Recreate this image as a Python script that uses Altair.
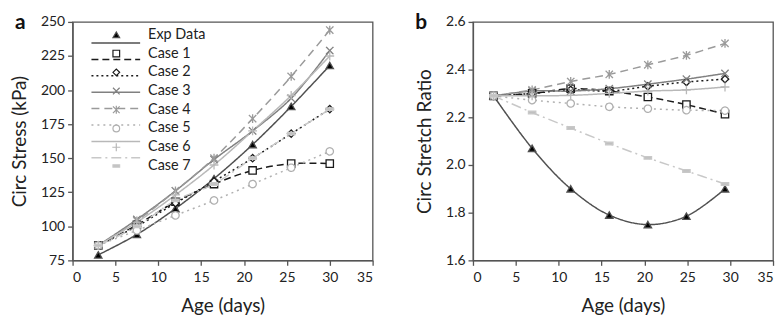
import altair as alt
import pandas as pd

series = ["Exp Data", "Case 1", "Case 2", "Case 3", "Case 4", "Case 5", "Case 6", "Case 7"]
panel_labels = ["a", "b"]

# Panel a: circumferential stress (kPa)
age_a = [3.0, 7.5, 12.0, 16.5, 21.0, 25.5, 30.0]
stress = {
    "Exp Data": [79, 94, 113, 135, 160, 188, 218],
    "Case 1": [86, 101, 118, 131, 141, 146, 146],
    "Case 2": [86, 100, 117, 133, 150, 168, 186],
    "Case 3": [86, 105, 126, 149, 170, 194, 229],
    "Case 4": [86, 104, 126, 150, 179, 210, 244],
    "Case 5": [86, 97, 108, 119, 131, 143, 155],
    "Case 6": [86, 103, 123, 145, 170, 196, 225],
    "Case 7": [86, 100, 119, 131, 150, 168, 186],
}

# Panel b: circumferential stretch ratio
age_b = [2.4, 6.9, 11.4, 15.9, 20.4, 24.9, 29.4]
stretch = {
    "Exp Data": [2.29, 2.07, 1.90, 1.79, 1.75, 1.785, 1.90],
    "Case 1": [2.29, 2.30, 2.32, 2.31, 2.285, 2.253, 2.213],
    "Case 2": [2.29, 2.30, 2.315, 2.31, 2.33, 2.348, 2.36],
    "Case 3": [2.29, 2.31, 2.31, 2.32, 2.339, 2.36, 2.384],
    "Case 4": [2.29, 2.315, 2.35, 2.38, 2.42, 2.46, 2.51],
    "Case 5": [2.29, 2.272, 2.258, 2.244, 2.236, 2.23, 2.228],
    "Case 6": [2.29, 2.29, 2.292, 2.30, 2.31, 2.315, 2.327],
    "Case 7": [2.29, 2.22, 2.155, 2.09, 2.03, 1.975, 1.92],
}

a_ticks = [75, 100, 125, 150, 175, 200, 225, 250]
b_ticks = [1.6, 1.8, 2.0, 2.2, 2.4, 2.6]
x_ticks = [0, 5, 10, 15, 20, 25, 30, 35]

# styles
line_colors = ["#505050", "#1a1a1a", "#1a1a1a", "#808080", "#9a9a9a", "#b0b0b0", "#b8b8b8", "#c8c8c8"]
dashes = [[1, 0], [7, 4], [2, 3], [1, 0], [8, 5], [2, 4], [1, 0], [10, 4, 2, 4]]
mk_stroke = ["#000000", "#000000", "#000000", "#808080", "#8c8c8c", "#a0a0a0", "#b0b0b0", "#c0c0c0"]
mk_fill = ["#000000", "#ffffff", "#ffffff", "#ffffff", "#ffffff", "#ffffff", "#ffffff", "#c0c0c0"]
shapes = [
    "triangle-up",
    "square",
    "diamond",
    "M-1,-1L1,1M-1,1L1,-1",
    "M-1,-1L1,1M-1,1L1,-1M0,-1.2L0,1.2",
    "circle",
    "M-1.2,0L1.2,0M0,-1.2L0,1.2",
    "M-1,-0.35L1,-0.35L1,0.35L-1,0.35Z",
]

FONT = "Lato"
W, H = 302, 240


def long_df(xs, table):
    rows = []
    for s in series:
        for x, y in zip(xs, table[s]):
            rows.append({"series": s, "x": x, "y": y})
    return pd.DataFrame(rows)


def enc_style():
    return dict(
        stroke=alt.Stroke("series:N", scale=alt.Scale(domain=series, range=line_colors), legend=None),
        strokeDash=alt.StrokeDash("series:N", scale=alt.Scale(domain=series, range=dashes), legend=None),
    )


def point_style():
    return dict(
        shape=alt.Shape("series:N", scale=alt.Scale(domain=series, range=shapes), legend=None),
        fill=alt.Fill("series:N", scale=alt.Scale(domain=series, range=mk_fill), legend=None),
    )


def panel(df, ymin, ymax, yticks, ytitle, yfmt, label, show_legend):
    def xenc():
        return alt.X("x:Q", scale=alt.Scale(domain=[0, 35], nice=False),
                     axis=alt.Axis(values=x_ticks, title="Age (days)", format="d", labelOverlap=False))

    def yenc():
        return alt.Y("y:Q", scale=alt.Scale(domain=[ymin, ymax], nice=False, zero=False),
                     axis=alt.Axis(values=yticks, title=ytitle, format=yfmt, labelOverlap=False,
                                   labelBound=False))
    base = alt.Chart(df)
    lines = base.mark_line(strokeWidth=1.5, interpolate="catmull-rom").encode(
        x=xenc(), y=yenc(), detail="series:N", **enc_style()
    )
    pts = base.mark_point(strokeWidth=1.3, size=55, opacity=1, filled=False).encode(
        x=xenc(), y=yenc(),
        strokeDash=alt.value([1, 0]),
        stroke=alt.Stroke("series:N", scale=alt.Scale(domain=series, range=mk_stroke), legend=None),
        **point_style()
    )
    inner = alt.layer(lines, pts)
    lab = alt.Chart(pd.DataFrame({"t": [label]})).mark_text(
        align="left", baseline="alphabetic", fontSize=21, fontWeight="bold", font=FONT, color="#111"
    ).encode(text="t:N", x=alt.value(-58), y=alt.value(7))
    layers = [inner]
    if show_legend:
        ldf = pd.DataFrame({"series": series})
        ly = alt.Y("series:N", scale=alt.Scale(domain=series, range=[13, 145], padding=0), axis=None)
        lrule = alt.Chart(ldf).mark_rule(strokeWidth=1.5).encode(
            x=alt.value(19), x2=alt.value(68), y=ly, **enc_style()
        )
        lpts = alt.Chart(ldf).mark_point(strokeWidth=1.2, size=45, opacity=1, filled=False).encode(
            x=alt.value(44), y=ly,
            stroke=alt.Stroke("series:N", scale=alt.Scale(domain=series, range=mk_stroke), legend=None),
            **point_style()
        )
        ltxt = alt.Chart(ldf).mark_text(align="left", baseline="middle", fontSize=14.5, font=FONT,
                                        color="#222").encode(
            x=alt.value(76), y=ly, text="series:N"
        )
        layers += [lrule, lpts, ltxt]
    layers.append(lab)
    return alt.layer(*layers).resolve_scale(y="independent").properties(width=W, height=H)


pa = panel(long_df(age_a, stress), 75, 250, a_ticks, "Circ Stress (kPa)", "d", panel_labels[0], True)
pb = panel(long_df(age_b, stretch), 1.6, 2.6, b_ticks, "Circ Stretch Ratio", ".1f", panel_labels[1], False)

chart = alt.hconcat(pa, pb, spacing=40).resolve_scale(
    x="independent", y="independent"
).properties(
    padding={"left": 1, "top": 2, "right": 0, "bottom": 0}
).configure_view(
    stroke="#555555", strokeWidth=1.3
).configure_axis(
    labelFont=FONT, titleFont=FONT, labelFontSize=14, titleFontSize=19,
    labelColor="#222", titleColor="#222", titleFontWeight="normal",
    domainColor="#555555", domainWidth=1.3, tickColor="#555555", tickWidth=1.3, tickSize=5,
    grid=False, labelPadding=3, labelOverlap=False
).configure_axisY(titlePadding=11).configure_axisX(titlePadding=12, labelPadding=5)

chart.save("out.html", embed_options={"renderer": "svg", "actions": False})
